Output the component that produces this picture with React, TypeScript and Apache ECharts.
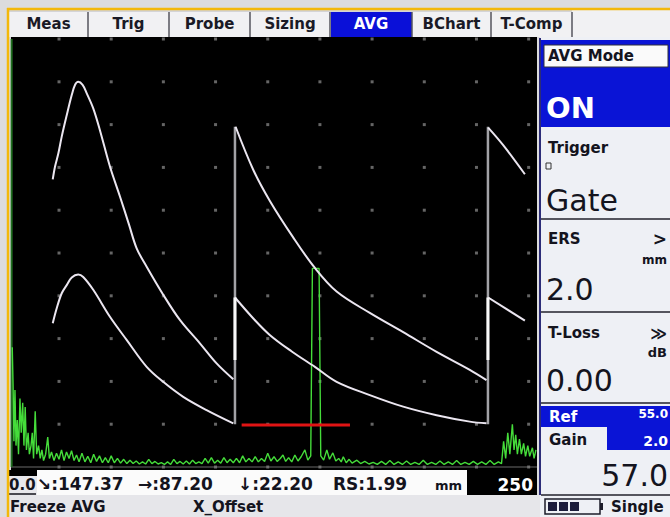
import React, { useEffect, useRef } from "react";
import * as echarts from "echarts";

const FONT = '"DejaVu Sans", "Noto Sans", sans-serif';

// ---- Data (x: depth in mm, y: screen height in %) ----
const gridX = [25, 50, 75, 100, 125, 150, 175, 200, 225, 250];
const gridY = [0, 10, 20, 30, 40, 50, 60, 70, 80, 90, 100];

const upperCurve1: [number, number][] = [
  [22.0, 67.2], [23.1, 70.2], [24.7, 73.3], [26.3, 77.2], [28.7, 82.2], [31.1, 86.9], [32.7, 89.3],
  [34.2, 90.0], [36.3, 89.3], [38.3, 87.3], [41.4, 83.8], [44.6, 78.7], [49.4, 70.2], [54.2, 63.2],
  [58.5, 56.7], [62.2, 51.1], [67.0, 46.8], [75.0, 40.2], [83.0, 34.3], [92.5, 28.9], [100.5, 24.2],
  [108.5, 20.5],
];
const upperCurve2: [number, number][] = [
  [109.6, 79.5], [118.1, 69.4], [126.1, 62.1], [137.1, 53.7], [147.6, 46.5], [158.0, 41.0],
  [173.9, 36.0], [189.9, 31.5], [205.9, 26.9], [221.8, 22.7], [229.8, 20.3],
];
const upperCurve3: [number, number][] = [[230.6, 79.3], [237.8, 75.2], [248.2, 68.4]];

const lowerCurve1: [number, number][] = [
  [22.0, 33.6], [23.9, 37.1], [26.3, 40.6], [28.7, 42.5], [31.1, 44.3], [34.2, 45.0], [36.6, 44.4],
  [41.4, 41.4], [49.4, 35.1], [57.4, 29.7], [67.0, 23.4], [74.9, 19.9], [84.5, 16.4], [95.7, 13.3],
  [108.5, 10.2],
];
const lowerCurve2: [number, number][] = [
  [109.3, 39.6], [118.1, 34.7], [126.1, 30.8], [136.5, 27.0], [147.6, 23.4], [158.0, 19.9],
  [173.9, 16.8], [189.9, 14.1], [205.9, 12.1], [221.8, 10.6], [229.8, 10.2],
];
const lowerCurve3: [number, number][] = [[230.6, 39.6], [248.2, 34.2]];

const jumpX = [109.3, 230.5];
const jumpLow = [10.0, 10.0];
const jumpHigh = [79.5, 79.5];
const jumpBrightLow = [25.0, 25.0];
const jumpBrightHigh = [39.6, 39.6];

const gateStart = 112.5;
const gateEnd = 164.4;
const gateLevel = 9.8;

const initialPulseX = 2.3;

const ascan: [number, number][] = [
  [2.6, 28], [3.0, 19], [3.4, 6], [3.9, 18], [4.4, 5], [5.0, 11], [5.6, 3], [6.3, 16], [6.9, 8],
  [7.6, 15], [8.2, 5], [8.8, 14], [9.4, 4], [10.2, 8], [10.8, 3], [11.6, 5], [12.2, 8], [12.8, 2],
  [13.6, 13], [14.3, 3], [15.2, 5], [16.0, 2], [16.8, 4], [17.6, 1.5], [18.6, 3], [19.6, 7],
  [20.4, 2], [21.4, 3.5], [22.6, 1.5], [23.8, 3.2], [25.0, 1.8], [26.2, 4], [27.4, 1.5], [28.6, 3.5],
  [29.8, 2], [31.0, 3.8], [32.2, 1.5], [33.4, 2.8], [34.6, 1.2], [36.0, 3.2], [37.4, 1.2], [38.8, 2.5],
  [40.2, 1], [41.6, 3], [43.0, 1.3], [44.4, 2.6], [45.8, 1], [47.2, 2.2], [48.6, 1], [50, 2.6],
  [51.5, 1], [53, 2], [54.5, 0.9], [56, 1.8], [57.5, 0.8], [59, 1.6], [60.5, 0.8], [62, 1.4],
  [63.5, 0.7], [65, 1.2], [66.5, 0.7], [68, 1.8], [69.5, 0.8], [71, 1.3], [72.5, 0.7], [74, 1.0],
  [75.5, 0.6], [77, 1.2], [78.5, 0.6], [80, 1.8], [81.5, 0.8], [83, 1.3], [84.5, 0.7], [86, 1.4],
  [87.5, 0.7], [89, 1.6], [90.5, 0.8], [92, 1.2], [93.5, 0.8], [95, 2.0], [96.5, 0.9], [98, 2.2],
  [99.5, 0.9], [101, 1.6], [102.5, 0.9], [104, 2.2], [105.5, 1.0], [107, 1.8], [108.5, 1.0],
  [110, 2.0], [111.5, 1.0], [113, 2.6], [114.5, 1.2], [116, 2.0], [117.5, 1.2], [119, 2.4],
  [120.5, 1.2], [122, 2.0], [123.5, 1.3], [125, 3.2], [126.5, 1.4], [128, 2.4], [129.5, 1.3],
  [131, 2.0], [132.3, 2.8], [133.6, 1.3], [135, 2.2], [136.5, 1.2], [138, 2.8], [139.5, 1.4],
  [141, 2.4], [142.8, 4.0], [144.2, 1.6], [145.6, 2.6], [146.4, 46.4], [149.6, 46.4], [150.4, 2.6],
  [151.8, 1.6], [153.3, 4.0], [154.6, 1.8], [156.2, 3.3], [157.6, 1.4], [159, 2.0], [160.2, 1.2],
  [161.2, 2.4], [162.6, 1.0], [164, 1.8], [165.4, 0.9], [167.7, 1.6], [169.5, 0.8], [171.5, 1.3],
  [173.5, 0.7], [175.5, 1.1], [177.5, 0.6], [179.5, 1.3], [181.5, 0.6], [183.5, 1.5], [185.5, 0.6],
  [187.5, 1.2], [189.5, 0.6], [191.5, 1.4], [193.5, 0.6], [195.5, 1.1], [197.5, 0.6], [199.5, 1.6],
  [201.5, 0.6], [203.5, 1.1], [205.5, 0.6], [207.5, 1.4], [209.5, 0.6], [211.5, 1.2], [213.5, 0.6],
  [215.5, 1.5], [217.5, 0.6], [219.5, 1.1], [221.5, 0.6], [223.5, 1.3], [225.5, 0.6], [227.5, 1.2],
  [229.5, 0.6], [231.5, 1.5], [233.5, 0.6], [235.5, 1.2], [237, 0.8], [238, 6], [239, 2], [240, 8],
  [241, 3], [242.2, 10], [243, 4], [243.8, 7.5], [244.6, 3], [245.6, 6.5], [246.5, 3], [247.6, 5.5],
  [248.5, 2.5], [249.6, 5], [250.5, 2.5], [251.8, 4.5], [252.6, 2], [253.5, 4],
];

// ---- Text content ----
const tabs = ["Meas", "Trig", "Probe", "Sizing", "AVG", "BChart", "T-Comp"];
const activeTab = "AVG";
const readings = ["↘:147.37", "→:87.20", "↓:22.20", "RS:1.99"];
const rangeStart = "0.0";
const rangeEnd = "250";
const unit = "mm";

// ---- Layout helpers ----
type Opt = { fill?: string; weight?: string; align?: string; vAlign?: string };
function txt(text: string, x: number, y: number, size: number, o: Opt = {}) {
  const align = o.align ?? "left";
  const v = o.vAlign ?? "middle";
  return {
    type: "text",
    x,
    y,
    style: {
      text,
      fill: o.fill ?? "#14141e",
      font: `${o.weight ?? "bold"} ${size}px ${FONT}`,
      align,
      verticalAlign: v,
      textAlign: align,
      textVerticalAlign: v,
    },
  };
}
function rect(x: number, y: number, w: number, h: number, fill: string, stroke?: string, lw = 1) {
  return {
    type: "rect",
    shape: { x, y, width: w, height: h },
    style: { fill, stroke: stroke ?? "none", lineWidth: lw },
  };
}
function ln(x1: number, y1: number, x2: number, y2: number, stroke: string, lw = 1) {
  return { type: "line", shape: { x1, y1, x2, y2 }, style: { stroke, lineWidth: lw } };
}

const tabEdges = [9, 88, 169, 250, 330, 412, 491, 572];
const readingX = [37, 138, 238, 333];

function buildGraphic() {
  const g: any[] = [];
  // outer frame
  g.push(rect(0, 0, 670, 517, "#dcdcde"));
  // black plot area
  g.push(rect(11, 37, 526, 433, "#000000"));
  // tabs bar
  g.push(rect(9, 10, 661, 27, "#f1f1f3"));
  tabs.forEach((t, i) => {
    const x0 = tabEdges[i];
    const x1 = tabEdges[i + 1];
    const active = t === activeTab;
    if (active) g.push(rect(x0 + 1, 12, x1 - x0 - 1, 25, "#0a10d8"));
    g.push(txt(t, (x0 + x1) / 2, 24, 15, { align: "center", fill: active ? "#ffffff" : "#1a1a26" }));
  });
  tabEdges.slice(1).forEach((x) => g.push(ln(x, 12, x, 37, "#55555e", 1.5)));
  g.push(ln(9, 11, 572, 11, "#b8b8bc", 1));

  // right panel
  g.push(rect(540, 37, 130, 480, "#eef0f5"));
  g.push(ln(540, 38, 540, 495, "#2c2c78", 2));
  g.push(rect(541, 40, 129, 87, "#0a14d6"));
  g.push(rect(544, 45, 124, 22, "#fafafa", "#30303a", 1));
  g.push(txt("AVG Mode", 548, 56, 15));
  g.push(txt("ON", 546, 108, 29, { fill: "#ffffff" }));
  g.push(txt("Trigger", 548, 148, 15));
  g.push(rect(546, 163, 5, 6, "none", "#333", 1));
  g.push(txt("Gate", 546, 200, 30, { weight: "normal" }));
  g.push(ln(541, 219, 670, 219, "#55555e", 2));
  g.push(txt("ERS", 548, 239, 15));
  g.push(txt(">", 667, 239, 17, { align: "right" }));
  g.push(txt("mm", 667, 260, 12, { align: "right" }));
  g.push(txt("2.0", 546, 289, 30, { weight: "normal" }));
  g.push(ln(541, 312, 670, 312, "#55555e", 2));
  g.push(txt("T-Loss", 548, 333, 15));
  g.push(txt("≫", 667, 333, 16, { align: "right" }));
  g.push(txt("dB", 667, 352, 13, { align: "right" }));
  g.push(txt("0.00", 546, 380, 30, { weight: "normal" }));
  g.push(ln(541, 403, 670, 403, "#55555e", 2));
  g.push(rect(541, 406, 129, 21, "#0a14d6"));
  g.push(rect(607, 427, 63, 23, "#0a14d6"));
  g.push(txt("Ref", 549, 417, 15, { fill: "#ffffff" }));
  g.push(txt("55.0", 668, 414, 12, { fill: "#ffffff", align: "right" }));
  g.push(txt("Gain", 549, 440, 15));
  g.push(txt("2.0", 668, 441, 14, { fill: "#ffffff", align: "right" }));
  g.push(txt("57.0", 668, 475, 30, { weight: "normal", align: "right" }));
  g.push(ln(541, 495, 670, 495, "#55555e", 2));
  g.push(rect(545, 499, 55, 15, "none", "#1c1c2a", 1.5));
  g.push(rect(600, 503, 3, 7, "#1c1c2a"));
  [548, 559, 570].forEach((x) => g.push(rect(x, 502, 9, 9, "#1c1c3a")));
  g.push(txt("Single", 611, 507, 15));

  // bottom readout strip
  g.push(rect(9, 470, 28, 25, "#e8e8ec"));
  g.push(rect(9, 470, 28, 6, "#000000"));
  g.push(txt(rangeStart, 9, 485, 15));
  g.push(ln(9, 494, 36, 494, "#14141e", 1.5));
  g.push(rect(37, 470, 430, 25, "#fbfbfb"));
  readings.forEach((r, i) => g.push(txt(r, readingX[i], 484, 17)));
  g.push(txt(unit, 435, 485, 13));
  g.push(rect(467, 468, 70, 27, "#000000"));
  g.push(txt(rangeEnd, 533, 485, 17, { fill: "#ffffff", align: "right" }));
  g.push(rect(9, 495, 531, 22, "#e6e6ea"));
  g.push(txt("Freeze AVG", 10, 507, 15));
  g.push(txt("X_Offset", 193, 507, 15));

  // orange frame
  g.push(ln(7, 9, 670, 9, "#f3b80a", 2.5));
  g.push(ln(8, 8, 8, 517, "#f3b80a", 2.5));
  return g;
}

function lineSeries(data: [number, number][], color: string, width: number, smooth: number | boolean, z = 5) {
  return {
    type: "line",
    data,
    showSymbol: false,
    smooth,
    z,
    lineStyle: { color, width },
    emphasis: { disabled: true },
  };
}

export default function App() {
  const ref = useRef<HTMLDivElement>(null);
  useEffect(() => {
    const chart = echarts.init(ref.current!, null, { renderer: "svg", width: 670, height: 517 });
    const dots: [number, number][] = [];
    gridX.forEach((x) => gridY.forEach((y) => dots.push([x, y])));
    const curveColor = "#ebe6f0";
    const series: any[] = [
      {
        type: "scatter",
        data: dots,
        symbol: "rect",
        symbolSize: 3,
        itemStyle: { color: "#7e7e7e" },
        z: 3,
        silent: true,
      },
      lineSeries([[2, 0], [254, 0]], "#6a6a6a", 1, false, 3),
      lineSeries([[initialPulseX, 0], [initialPulseX, 100]], "#1f6e1f", 2, false, 4),
      lineSeries(ascan, "#45dc3a", 1.4, false, 4),
      lineSeries([[gateStart, gateLevel], [gateEnd, gateLevel]], "#e01414", 3, false, 6),
      ...jumpX.map((x, i) => lineSeries([[x, jumpLow[i]], [x, jumpHigh[i]]], "#a2a2a6", 2.5, false, 5)),
      ...jumpX.map((x, i) =>
        lineSeries([[x, jumpBrightLow[i]], [x, jumpBrightHigh[i]]], "#f8f8f8", 3, false, 6)
      ),
      lineSeries(upperCurve1, curveColor, 2, 0.35),
      lineSeries(upperCurve2, curveColor, 2, 0.35),
      lineSeries(upperCurve3, curveColor, 2, 0.35),
      lineSeries(lowerCurve1, curveColor, 2, 0.35),
      lineSeries(lowerCurve2, curveColor, 2, 0.35),
      lineSeries(lowerCurve3, curveColor, 2, 0.35),
    ];
    chart.setOption({
      animation: false,
      backgroundColor: "#dcdcde",
      grid: { left: 11, right: 133, top: 37, bottom: 47, containLabel: false },
      xAxis: { type: "value", min: 2, max: 254, show: false },
      yAxis: { type: "value", min: -0.7, max: 100.47, show: false },
      graphic: { elements: buildGraphic() },
      series,
    });
    return () => chart.dispose();
  }, []);
  return <div ref={ref} style={{ position: "fixed", left: 0, top: 0, width: 670, height: 517 }} />;
}
